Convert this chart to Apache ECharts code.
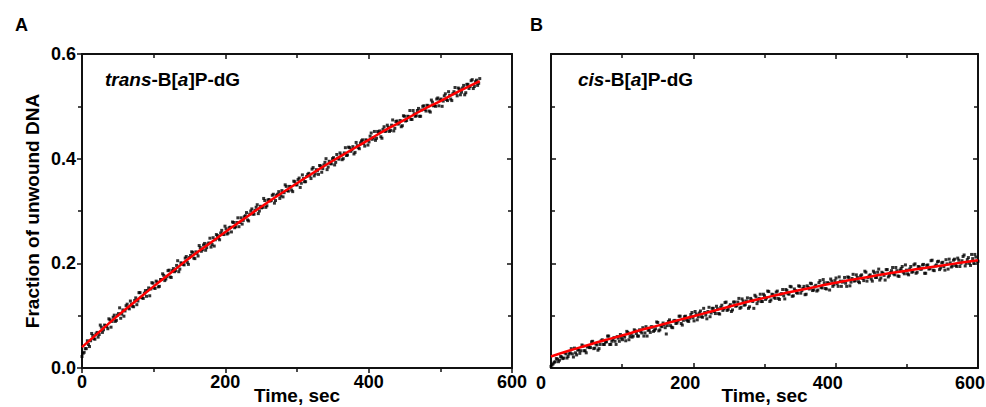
<!DOCTYPE html>
<html><head><meta charset="utf-8">
<script src="https://cdn.jsdelivr.net/npm/echarts@6/dist/echarts.min.js"></script>
<style>html,body{margin:0;padding:0;background:#fff}#c{width:986px;height:407px}</style>
</head><body><div id="c"></div>
<script>
// sampling interval of the measured traces (seconds); two interleaved sample sets
const sampleStepSec = 3;
const interleaveOffsetSec = 1.5;
// Panel A: trans-B[a]P-dG, measured fraction unwound, t = 0,3,6,...,555 s
const transValues = [
.022,.030,.037,.045,.052,.062,.055,.068,.064,.078,.073,.081,.075,.092,.089,.101,.091,.104,.095,.111,
.109,.122,.113,.122,.117,.134,.128,.144,.134,.143,.137,.153,.151,.162,.152,.164,.156,.169,.177,.170,
.186,.174,.186,.184,.196,.184,.201,.198,.210,.202,.211,.222,.210,.222,.214,.230,.226,.238,.230,.239,
.231,.249,.245,.253,.245,.263,.255,.266,.258,.269,.279,.268,.278,.270,.287,.282,.291,.283,.294,.304,
.294,.307,.295,.309,.307,.320,.310,.322,.320,.332,.320,.332,.324,.339,.335,.347,.338,.346,.337,.356,
.350,.363,.353,.362,.356,.370,.367,.380,.367,.379,.370,.386,.381,.393,.379,.395,.390,.402,.393,.401,
.411,.398,.411,.406,.422,.414,.423,.412,.425,.419,.434,.429,.436,.426,.443,.437,.452,.439,.449,.442,
.456,.452,.464,.452,.464,.453,.471,.466,.473,.463,.481,.473,.480,.475,.492,.481,.492,.481,.493,.501,
.491,.501,.489,.508,.502,.514,.501,.514,.510,.524,.511,.521,.511,.528,.525,.535,.522,.535,.522,.542,
.534,.549,.534,.547,.540,.553];
// Panel A, interleaved samples, t = 1.5,4.5,...,553.5 s
const transValues2 = [
.028,.037,.052,.041,.066,.056,.065,.059,.082,.068,.082,.079,.094,.078,.097,.089,.101,.115,.103,.099,
.119,.115,.128,.118,.129,.121,.144,.135,.133,.148,.148,.138,.163,.153,.166,.155,.169,.180,.167,.175,
.187,.173,.190,.186,.205,.189,.200,.197,.213,.198,.215,.221,.209,.219,.234,.223,.235,.225,.237,.248,
.236,.233,.255,.248,.258,.256,.271,.256,.268,.260,.278,.270,.287,.278,.275,.289,.297,.281,.300,.294,
.301,.312,.300,.306,.324,.307,.321,.319,.330,.315,.330,.337,.329,.327,.350,.339,.347,.340,.357,.350,
.360,.345,.369,.356,.366,.372,.362,.383,.371,.377,.387,.374,.388,.400,.384,.391,.400,.388,.408,.399,
.407,.400,.421,.407,.421,.417,.409,.431,.421,.430,.436,.424,.435,.432,.449,.440,.435,.452,.453,.439,
.461,.453,.460,.454,.474,.458,.472,.468,.461,.482,.472,.481,.492,.475,.486,.482,.496,.481,.500,.494,
.502,.491,.512,.501,.500,.516,.512,.500,.520,.513,.528,.514,.524,.536,.520,.533,.527,.540,.526,.542,
.538,.551,.538,.550,.544];
// Panel A fitted curve
const transFitTimes = [0,25,50,75,100,125,150,175,200,225,250,275,300,325,350,375,400,425,450,475,500,525,550,555];
const transFitValues = [.040,.070,.100,.128,.156,.183,.210,.235,.260,.284,.308,.331,.353,.375,.396,.416,.436,.456,.474,.493,.510,.528,.545,.548];

// Panel B: cis-B[a]P-dG, measured fraction unwound, t = 0,3,6,...,600 s
const cisValues = [
.003,.008,.012,.017,.015,.021,.019,.027,.022,.029,.027,.038,.025,.034,.033,.042,.033,.040,.039,.050,
.037,.046,.034,.045,.054,.045,.050,.061,.045,.054,.051,.060,.051,.057,.062,.052,.068,.060,.059,.073,
.066,.061,.070,.077,.067,.061,.073,.079,.070,.075,.087,.073,.079,.083,.065,.089,.081,.077,.091,.086,
.099,.085,.091,.099,.090,.095,.106,.090,.103,.098,.109,.097,.106,.094,.116,.105,.114,.104,.113,.103,
.120,.113,.126,.112,.121,.111,.126,.119,.133,.116,.128,.121,.134,.117,.130,.114,.136,.128,.141,.127,
.138,.134,.146,.130,.140,.133,.147,.131,.142,.138,.150,.142,.156,.137,.151,.144,.157,.143,.152,.140,
.157,.151,.161,.149,.158,.149,.167,.153,.163,.151,.162,.170,.156,.167,.161,.174,.156,.166,.162,.174,
.157,.171,.166,.178,.165,.176,.171,.185,.166,.176,.170,.185,.173,.183,.168,.183,.177,.188,.174,.182,
.192,.178,.186,.175,.190,.183,.197,.180,.189,.183,.197,.181,.194,.189,.197,.181,.196,.189,.205,.187,
.195,.203,.188,.201,.194,.207,.189,.201,.195,.208,.194,.206,.200,.213,.195,.207,.200,.217,.200,.212,
.204];
// Panel B, interleaved samples, t = 1.5,4.5,...,598.5 s
const cisValues2 = [
.006,.011,.018,.012,.022,.018,.029,.019,.027,.037,.021,.029,.035,.028,.044,.033,.029,.042,.039,.051,
.038,.044,.037,.052,.045,.050,.061,.045,.051,.058,.045,.057,.064,.054,.059,.070,.054,.065,.061,.071,
.061,.073,.067,.061,.079,.072,.068,.078,.072,.088,.071,.080,.086,.077,.081,.092,.078,.090,.085,.090,
.099,.082,.098,.092,.089,.102,.096,.108,.092,.105,.098,.114,.101,.108,.098,.114,.108,.118,.104,.116,
.110,.125,.110,.118,.108,.126,.118,.126,.114,.132,.120,.128,.114,.133,.127,.139,.123,.133,.127,.141,
.131,.147,.127,.141,.135,.145,.133,.141,.150,.132,.148,.141,.155,.138,.148,.143,.156,.148,.156,.141,
.154,.162,.148,.155,.147,.163,.154,.169,.152,.163,.149,.166,.159,.172,.156,.166,.164,.173,.156,.173,
.164,.179,.167,.173,.163,.178,.167,.183,.173,.178,.166,.182,.173,.189,.172,.181,.168,.188,.177,.186,
.180,.192,.176,.187,.194,.180,.187,.178,.194,.184,.199,.183,.193,.189,.198,.181,.197,.190,.206,.186,
.197,.204,.191,.202,.187,.199,.208,.193,.206,.196,.210,.194,.205,.216,.200,.211,.196,.209,.217,.204];
// Panel B fitted curve
const cisFitTimes = [0,25,50,75,100,125,150,175,200,225,250,275,300,325,350,375,400,425,450,475,500,525,550,575,600];
const cisFitValues = [.022,.033,.043,.053,.062,.072,.081,.090,.099,.108,.117,.126,.134,.142,.149,.156,.163,.169,.175,.181,.186,.191,.196,.201,.206];

// axis ticks
const timeTicks = [0, 200, 400, 600];
const fractionTicks = [0.0, 0.2, 0.4, 0.6];

const FONT = '"Liberation Sans", Arial, sans-serif';
const INK = '#111';

function pairs(vals, offset){ return vals.map((v,i)=>[offset + i*sampleStepSec, v]); }
function zip(ts, vs){ return ts.map((t,i)=>[t, vs[i]]); }

function xAx(grid, pos, opts){
  return Object.assign({
    type:'value', gridIndex:grid, position:pos,
    min:timeTicks[0], max:timeTicks[timeTicks.length-1], interval:timeTicks[1]-timeTicks[0],
    axisLine:{show:true, onZero:false, lineStyle:{color:INK, width:2}},
    axisTick:{show:true, inside:true, length:5, lineStyle:{color:INK, width:1.5}},
    minorTick:{show:true, splitNumber:2, length:4, lineStyle:{color:INK, width:1.5}},
    axisLabel:{show:false},
    splitLine:{show:false}, minorSplitLine:{show:false},
    nameMoveOverlap:false
  }, opts||{});
}
function yAx(grid, pos, opts){
  return Object.assign({
    type:'value', gridIndex:grid, position:pos,
    min:fractionTicks[0], max:fractionTicks[fractionTicks.length-1], interval:fractionTicks[1]-fractionTicks[0],
    axisLine:{show:true, onZero:false, lineStyle:{color:INK, width:2}},
    axisTick:{show:true, inside:true, length:5, lineStyle:{color:INK, width:1.5}},
    minorTick:{show:true, splitNumber:2, length:4, lineStyle:{color:INK, width:1.5}},
    axisLabel:{show:false},
    splitLine:{show:false}, minorSplitLine:{show:false},
    nameMoveOverlap:false
  }, opts||{});
}
const labelStyle = {show:true, fontFamily:FONT, fontWeight:'bold', fontSize:18, color:'#000'};
const nameStyle = {fontFamily:FONT, fontWeight:'bold', fontSize:19, lineHeight:19, color:'#000'};
const dotStyle = {color:'#000'};

const chart = echarts.init(document.getElementById('c'), null, {renderer:'svg', width:986, height:407});
chart.setOption({
  animation:false,
  backgroundColor:'#fff',
  title:[
    {text:'A', left:10, top:11, textStyle:{fontFamily:FONT, fontWeight:'bold', fontSize:18, color:'#000'}},
    {text:'B', left:525, top:11, textStyle:{fontFamily:FONT, fontWeight:'bold', fontSize:18, color:'#000'}},
    {text:'{i|trans}{n|-B[}{i|a}{n|]P-dG}', left:100, top:65,
      textStyle:{rich:{i:{fontFamily:FONT, fontWeight:'bold', fontStyle:'italic', fontSize:19, color:'#000'},
                       n:{fontFamily:FONT, fontWeight:'bold', fontSize:19, color:'#000'}}}},
    {text:'{i|cis}{n|-B[}{i|a}{n|]P-dG}', left:573, top:65,
      textStyle:{rich:{i:{fontFamily:FONT, fontWeight:'bold', fontStyle:'italic', fontSize:19, color:'#000'},
                       n:{fontFamily:FONT, fontWeight:'bold', fontSize:19, color:'#000'}}}}
  ],
  grid:[
    {left:82, top:54, width:430, height:314, outerBoundsMode:'none', containLabel:false},
    {left:551, top:54, width:427, height:314, outerBoundsMode:'none', containLabel:false}
  ],
  xAxis:[
    xAx(0,'bottom',{axisTick:{show:true, inside:false, length:5, lineStyle:{color:INK, width:1.5}},
      axisLabel:Object.assign({margin:5}, labelStyle),
      name:'Time, sec', nameLocation:'middle', nameGap:18, nameTextStyle:nameStyle}),
    xAx(0,'top'),
    xAx(1,'bottom',{axisLabel:Object.assign({margin:6, padding:[0,16,0,0],
        formatter:v=>v===0?'{z|0}':String(v), rich:{z:{fontFamily:FONT, fontWeight:'bold', fontSize:18, color:'#000', padding:[0,4,0,0]}}}, labelStyle),
      name:'Time, sec', nameLocation:'middle', nameGap:18, nameTextStyle:nameStyle}),
    xAx(1,'top')
  ],
  yAxis:[
    yAx(0,'left',{axisTick:{show:true, inside:false, length:5, lineStyle:{color:INK, width:1.5}},
      axisLabel:Object.assign({margin:6, formatter:v=>v.toFixed(1)}, labelStyle),
      name:'Fraction of unwound DNA', nameLocation:'middle', nameGap:40, nameTextStyle:nameStyle}),
    yAx(0,'right'),
    yAx(1,'left'),
    yAx(1,'right')
  ],
  series:[
    {type:'scatter', xAxisIndex:0, yAxisIndex:0, data:pairs(transValues,0), symbol:'rect', symbolSize:3, itemStyle:dotStyle, silent:true},
    {type:'scatter', xAxisIndex:0, yAxisIndex:0, data:pairs(transValues2,interleaveOffsetSec), symbol:'rect', symbolSize:3, itemStyle:dotStyle, silent:true},
    {type:'line', xAxisIndex:0, yAxisIndex:0, data:zip(transFitTimes, transFitValues), smooth:true, showSymbol:false,
      lineStyle:{color:'#ff0000', width:2.5}, silent:true},
    {type:'scatter', xAxisIndex:2, yAxisIndex:2, data:pairs(cisValues,0), symbol:'rect', symbolSize:3, itemStyle:dotStyle, silent:true},
    {type:'scatter', xAxisIndex:2, yAxisIndex:2, data:pairs(cisValues2,interleaveOffsetSec), symbol:'rect', symbolSize:3, itemStyle:dotStyle, silent:true},
    {type:'line', xAxisIndex:2, yAxisIndex:2, data:zip(cisFitTimes, cisFitValues), smooth:true, showSymbol:false,
      lineStyle:{color:'#ff0000', width:2.5}, silent:true}
  ]
});
</script>
</body></html>
